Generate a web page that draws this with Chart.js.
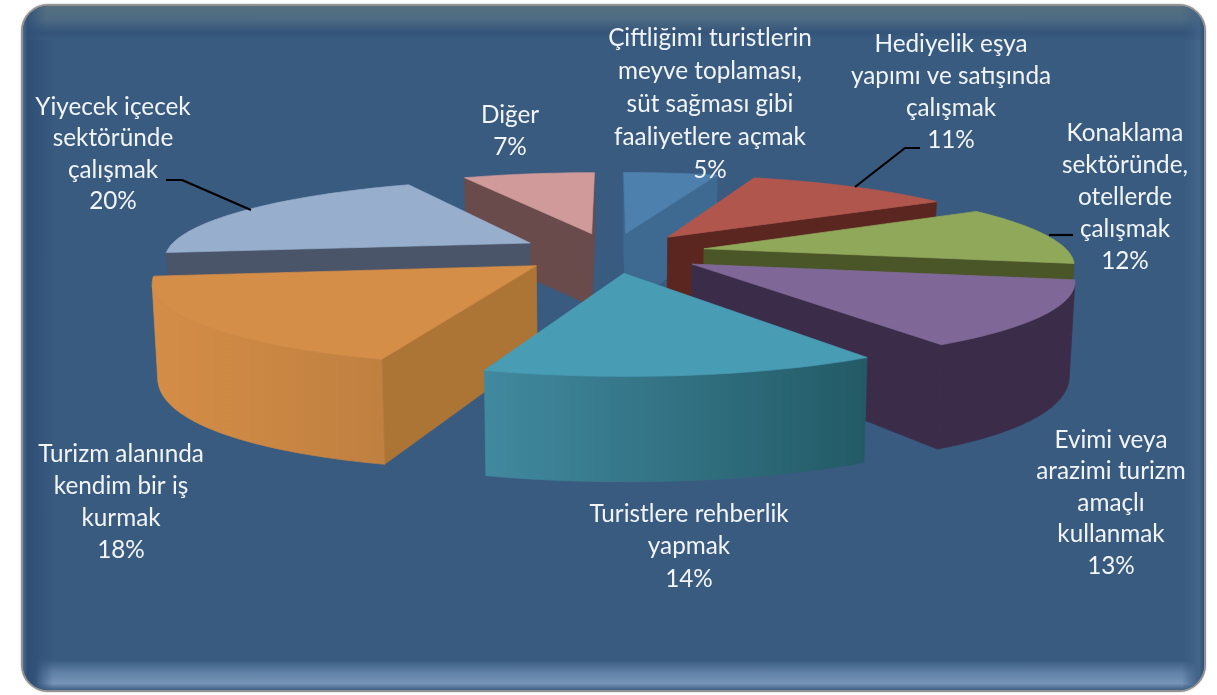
<!DOCTYPE html>
<html lang="tr">
<head>
<meta charset="utf-8">
<title>Pie</title>
<script src="https://cdn.jsdelivr.net/npm/chart.js@4"></script>
<style>
html,body{margin:0;padding:0;background:#fff;width:1217px;height:695px;overflow:hidden}
#frame{position:absolute;left:21px;top:4px;width:1181px;height:684px;border:2.5px solid #929292;border-radius:27px;background:#3a5b80;overflow:hidden;box-shadow:0 0 2px #bbb}
.b{position:absolute}
#left{left:0;top:0;bottom:0;width:32px;background:linear-gradient(90deg,#4a6c90 0,#2f4f75 14%,#33537a 50%,#3a5b80 100%)}
#right{right:0;top:0;bottom:0;width:20px;background:linear-gradient(270deg,#2f5074 0,#44668a 25%,#3f6085 60%,#3a5b80 100%)}
#top{left:0;right:0;top:0;height:34px;background:linear-gradient(#56707f 0,#4d6a83 40%,#345479 78%,#3a5b80 100%);-webkit-mask-image:linear-gradient(90deg,transparent 0,#000 24px,#000 calc(100% - 22px),transparent 100%);mask-image:linear-gradient(90deg,transparent 0,#000 24px,#000 calc(100% - 22px),transparent 100%)}
#bottom{left:0;right:0;bottom:0;height:30px;background:linear-gradient(#3a5b80 0,#5f7fa4 40%,#7694b8 78%,#3f5f84 100%);-webkit-mask-image:linear-gradient(90deg,transparent 12px,#000 30px,#000 calc(100% - 22px),transparent calc(100% - 6px));mask-image:linear-gradient(90deg,transparent 12px,#000 30px,#000 calc(100% - 22px),transparent calc(100% - 6px))}
#wrap{position:absolute;left:0;top:0;width:1217px;height:695px}
</style>
</head>
<body>
<div id="frame"><div class="b" id="left"></div><div class="b" id="right"></div><div class="b" id="top"></div><div class="b" id="bottom"></div></div>
<div id="wrap"><canvas id="c" width="1217" height="695"></canvas></div>
<script>
const categories = [
  'Çiftliğimi turistlerin meyve toplaması, süt sağması gibi faaliyetlere açmak',
  'Hediyelik eşya yapımı ve satışında çalışmak',
  'Konaklama sektöründe, otellerde çalışmak',
  'Evimi veya arazimi turizm amaçlı kullanmak',
  'Turistlere rehberlik yapmak',
  'Turizm alanında kendim bir iş kurmak',
  'Yiyecek içecek sektöründe çalışmak',
  'Diğer'
];
const percentages = [5, 11, 12, 13, 14, 18, 20, 7];
const labelLines = [
  ['Çiftliğimi turistlerin','meyve toplaması,','süt sağması gibi','faaliyetlere açmak'],
  ['Hediyelik eşya','yapımı ve satışında','çalışmak'],
  ['Konaklama','sektöründe,','otellerde','çalışmak'],
  ['Evimi veya','arazimi turizm','amaçlı','kullanmak'],
  ['Turistlere rehberlik','yapmak'],
  ['Turizm alanında','kendim bir iş','kurmak'],
  ['Yiyecek içecek','sektöründe','çalışmak'],
  ['Diğer']
];
const topColors  = ['#4e80ad','#b0564d','#90a85a','#7f6897','#489cb4','#d58e47','#98aecd','#cf9a99'];
const sideColors = ['#3e6a92','#5a261f','#4a5528','#3b2d4a','#2d6f80','#ad7535','#4a5569','#6a4b4b'];
const rimStart   = ['#3e6a92','#8a3f37','#5f6e35','#3b2d4a','#235a66','#c08040','#66789a','#8a6565'];
const rimEnd     = ['#3e6a92','#8a3f37','#5f6e35','#3b2d4a','#41899f','#d48d47','#66789a','#8a6565'];

const view = {stretch:1.445, explode:0.26, tilt:77.3, persp:0.171, depth:[82.3,37.2,-15], minDepth:72, baseShrink:0.988};
const labelLayout = [
  {x:710,y:38,pitch:33},{x:951,y:44,pitch:32},{x:1125,y:133,pitch:32},{x:1111,y:440,pitch:31.5},
  {x:689,y:514,pitch:32.5},{x:121,y:454,pitch:32},{x:113,y:107,pitch:31.5},{x:510,y:115,pitch:32}
];
const leaders = [
  [[920,148],[905,148],[855,187]],
  [[1073,235],[1049,235]],
  [[166,180],[182,180],[251,210]]
];

function signedArea(pts){
  let area=0;
  for(let i=0;i<pts.length;i++){const u=pts[i],v=pts[(i+1)%pts.length];area+=u.x*v.y-v.x*u.y;}
  return area;
}
function poly(ctx,pts,col){
  ctx.beginPath();ctx.moveTo(pts[0].x,pts[0].y);
  for(let i=1;i<pts.length;i++)ctx.lineTo(pts[i].x,pts[i].y);
  ctx.closePath();ctx.fillStyle=col;ctx.strokeStyle=col;ctx.lineWidth=0.7;ctx.fill();ctx.stroke();
}
const pie3d = {
  id:'pie3d',
  beforeDatasetDraw(chart,args){
    const ctx=chart.ctx, meta=args.meta;
    const order=meta.data.map((a,i)=>i).sort((p,q)=>{
      const mid=i=>{const e=meta.data[i];return Math.sin((e.startAngle+e.endAngle)/2);};
      return mid(p)-mid(q);
    });
    ctx.save();
    order.forEach(i=>{
      const arc=meta.data[i];
      const {startAngle:a0,endAngle:a1,outerRadius:r,x:cx,y:cy}=arc;
      const mid=(a0+a1)/2, ox=Math.cos(mid)*view.explode, oy=Math.sin(mid)*view.explode;
      const R=r*view.stretch;
      const P=(X,Y,z)=>{
        const s=1/(1-view.persp*Y);
        const d=Y<-0.25?view.minDepth:Math.max(view.minDepth,view.depth[0]+view.depth[1]*Y+view.depth[2]*Y*Y);
        return {x:cx+X*R*s*(z?view.baseShrink:1),y:cy+view.tilt*Y*s+z*d};
      };
      const n=Math.max(4,Math.ceil((a1-a0)/(Math.PI/120)));
      const ang=[];for(let k=0;k<=n;k++)ang.push(a0+(a1-a0)*k/n);
      const rim=z=>ang.map(t=>P(ox+Math.cos(t),oy+Math.sin(t),z));
      const rt=rim(0), rb=rim(1), at=P(ox,oy,0), ab=P(ox,oy,1);
      const w1=[at,rt[0],rb[0],ab], w2=[rt[n],at,ab,rb[n]];
      if(signedArea(w1)<0) poly(ctx,w1,sideColors[i]);
      if(signedArea(w2)<0) poly(ctx,w2,sideColors[i]);
      const front=[];
      for(let k=0;k<n;k++) if(signedArea([rt[k],rt[k+1],rb[k+1],rb[k]])<0) front.push(k);
      if(front.length){
        const f=front[0], l=front[front.length-1]+1;
        const path=[];
        for(let k=f;k<=l;k++)path.push(rt[k]);
        for(let k=l;k>=f;k--)path.push(rb[k]);
        const g=ctx.createLinearGradient(rt[f].x,0,rt[l].x,0);
        g.addColorStop(0,rimStart[i]);g.addColorStop(1,rimEnd[i]);
        poly(ctx,path,g);
      }
      poly(ctx,[at].concat(rt),arc.options.backgroundColor);
    });
    ctx.restore();
    return false;
  },
  afterDraw(chart){
    const ctx=chart.ctx;
    ctx.save();
    ctx.strokeStyle='#000';ctx.lineWidth=2.2;ctx.lineJoin='round';
    leaders.forEach(l=>{ctx.beginPath();l.forEach((p,i)=>i?ctx.lineTo(p[0],p[1]):ctx.moveTo(p[0],p[1]));ctx.stroke();});
    ctx.font='24.3px Lato, "Open Sans", sans-serif';
    ctx.textAlign='center';ctx.textBaseline='middle';ctx.fillStyle='#f2f5f8';
    labelLines.forEach((lines,i)=>{
      const L=labelLayout[i];
      lines.concat(percentages[i]+'%').forEach((t,j)=>ctx.fillText(t,L.x,L.y+j*L.pitch));
    });
    ctx.restore();
  }
};
new Chart(document.getElementById('c'),{
  type:'pie',
  data:{labels:categories,datasets:[{data:percentages,backgroundColor:topColors,borderWidth:0}]},
  options:{
    responsive:false,animation:false,
    layout:{padding:{left:6,right:0,top:0,bottom:190}},
    rotation:0,
    plugins:{legend:{display:false},tooltip:{enabled:false},title:{display:false}}
  },
  plugins:[pie3d]
});
</script>
</body>
</html>
